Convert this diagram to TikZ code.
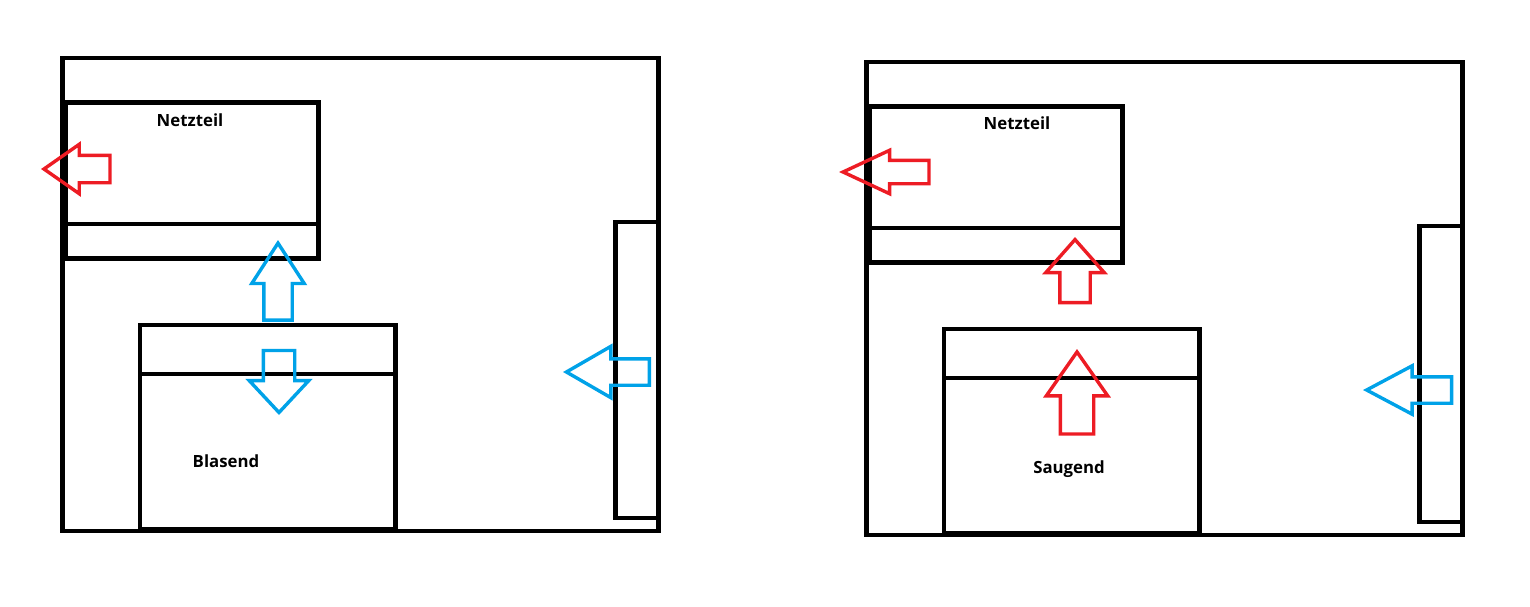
\documentclass[tikz,border=0pt]{standalone}
\usepackage{fontspec}
\setmainfont{Open Sans}
\usepackage{tikz}
\usetikzlibrary{shapes.arrows}

\definecolor{ArrowRed}{RGB}{237,28,36}
\definecolor{ArrowBlue}{RGB}{0,162,232}

\tikzset{
  wall/.style={draw, line width=2.3pt},
  airarrow/.style={draw, single arrow, line width=1.7pt, anchor=tip},
  hot/.style={airarrow, draw=ArrowRed},
  cool/.style={airarrow, draw=ArrowBlue},
  lbl/.style={inner sep=0pt, font=\bfseries\fontsize{8.4}{10}\selectfont}
}

\begin{document}
\begin{tikzpicture}[x=0.5pt, y=-0.5pt]
\useasboundingbox (0,0) rectangle (1530,606);

% left case: blowing card
\begin{scope}
\draw[wall] (62.5,58) rectangle (658.5,531);
\draw[wall] (66,102.5) rectangle (318.5,258.5);
\draw[wall] (66,224) -- (318.5,224);
\draw[wall] (140,325) rectangle (395.5,529.5);
\draw[wall] (140,374) -- (395.5,374);
\draw[wall] (615.5,222) rectangle (658.5,518);

\node[lbl] (psuA) at (190,120) {Netzteil};
\node[lbl] (cardA) at (226,461) {Blasend};

\node[hot, shape border rotate=180, inner sep=6pt, minimum height=33pt, single arrow head extend=5.5pt, single arrow tip angle=70] (outA) at (41,169) {};
\node[cool, shape border rotate=90, inner sep=6.25pt, minimum height=38.5pt, single arrow head extend=6pt, single arrow tip angle=66] (upA) at (278,240) {};
\node[cool, shape border rotate=270, inner sep=7pt, minimum height=31pt, single arrow head extend=7pt, single arrow tip angle=86] (downA) at (279,415) {};
\node[cool, shape border rotate=180, inner sep=5.75pt, minimum height=41.5pt, single arrow head extend=6.25pt, single arrow tip angle=60] (inA) at (563,372) {};
\end{scope}

% right case: sucking card
\begin{scope}[xshift=402pt, yshift=-2pt]
\draw[wall] (62.5,58) rectangle (658.5,531);
\draw[wall] (66,102.5) rectangle (318.5,258.5);
\draw[wall] (66,224) -- (318.5,224);
\draw[wall] (140,325) rectangle (395.5,529.5);
\draw[wall] (140,374) -- (395.5,374);
\draw[wall] (615.5,222) rectangle (658.5,518);

\node[lbl] (psuB) at (213,119) {Netzteil};
\node[lbl] (cardB) at (265,465) {Saugend};

\node[hot, shape border rotate=180, inner sep=5pt, minimum height=43pt, single arrow head extend=5pt, single arrow tip angle=50] (outB) at (35,168) {};
\node[hot, shape border rotate=90, inner sep=6.75pt, minimum height=31.5pt, single arrow head extend=7pt, single arrow tip angle=83] (upB) at (271,233) {};
\node[hot, shape border rotate=90, inner sep=7.5pt, minimum height=41pt, single arrow head extend=7pt, single arrow tip angle=70] (throughB) at (273,345) {};
\node[cool, shape border rotate=180, inner sep=5.75pt, minimum height=42.5pt, single arrow head extend=5.5pt, single arrow tip angle=56] (inB) at (559,386) {};
\end{scope}

\end{tikzpicture}
\end{document}
